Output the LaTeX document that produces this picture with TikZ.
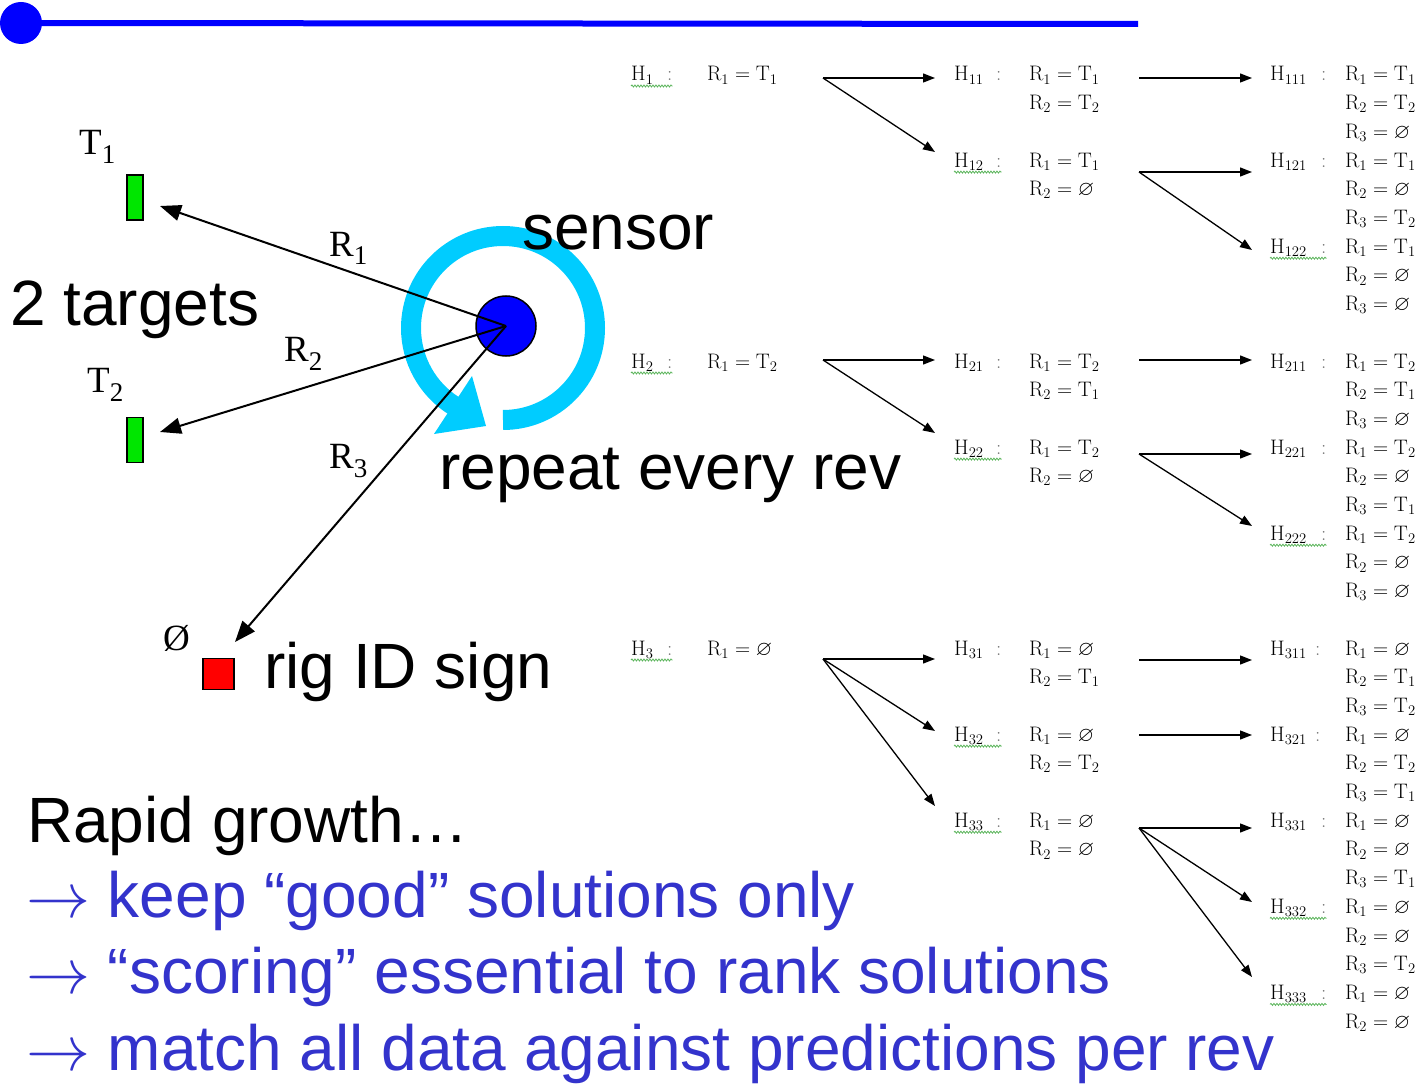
\RequirePackage{fix-cm}
\documentclass[tikz,border=0pt]{standalone}
\usepackage{amssymb}
\usepackage{fontspec}
\usetikzlibrary{arrows.meta,decorations.pathmorphing}
\newfontfamily\arialf{Liberation Sans}
\newfontfamily\timesf{Liberation Serif}
\definecolor{sblue}{RGB}{0,0,255}
\definecolor{tblue}{RGB}{51,51,204}
\definecolor{ringc}{RGB}{0,204,255}
\definecolor{tgreen}{RGB}{0,230,0}
\definecolor{wavyg}{RGB}{90,180,90}
\newcommand\tlab[2]{{\timesf\fontsize{37}{37}\selectfont #1\raisebox{-9pt}{\fontsize{27}{27}\selectfont #2}}}
\newcommand\HH[2]{\makebox[#1][l]{$\mathrm{H}_{#2}$}\textcolor{black!55}{:}}
\newcommand\Tt[1]{\mathrm{T}_{#1}}
\newcommand\emp{\varnothing}
\begin{document}
\begin{tikzpicture}[x=1pt,y=-1pt,
  bigtxt/.style={anchor=base west, inner sep=0, font=\arialf\fontsize{64}{70}\selectfont},
  tx/.style={anchor=base west, inner sep=0, font=\fontsize{21}{21}\selectfont},
  tarr/.style={-{Triangle[length=12pt,width=9pt]}, line width=1.3pt},
  larr/.style={-{Triangle[length=21pt,width=16pt]}, line width=2pt},
  tbox/.style={draw, line width=1.2pt, fill=tgreen, minimum width=16pt, minimum height=45pt, inner sep=0},
  wavy/.style={draw=wavyg, line width=0.8pt, decorate, decoration={snake, amplitude=1pt, segment length=3pt}}]
\useasboundingbox (0,0) rectangle (1427,1086);

% top rule
\node[circle, fill=sblue, inner sep=0, minimum size=42pt] (topdot) at (21,23) {};
\coordinate (topend) at (1138,24);
\draw[sblue, line width=6pt] (topdot.center) -- (topend);

% rotating arrow
\draw[ringc, line width=20pt] (503,420) arc[start angle=90, end angle=-238, radius=92];
\fill[ringc] (434,434) -- (472,376) -- (486,426) -- cycle;

% sensor and targets
\node[circle, draw, line width=1.5pt, fill=sblue, minimum size=60pt, inner sep=0] (sensor) at (506,326) {};
\node[tbox] (t1) at (135,197.5) {};
\node[tbox] (t2) at (135,440) {};
\node[draw, line width=1.2pt, fill=red, minimum size=31pt, inner sep=0] (sign) at (218.5,674) {};
\coordinate (t1tip) at (160,206);
\coordinate (t2tip) at (160,432);
\coordinate (signtip) at (235,642);
\draw[larr] (sensor.center) -- (t1tip);
\draw[larr] (sensor.center) -- (t2tip);
\draw[larr] (sensor.center) -- (signtip);

\node[anchor=base west, inner sep=0] (lt1) at (79,155) {\tlab{T}{1}};
\node[anchor=base west, inner sep=0] (lt2) at (87,392) {\tlab{T}{2}};
\node[anchor=base west, inner sep=0] (lr1) at (329,256) {\tlab{R}{1}};
\node[anchor=base west, inner sep=0] (lr2) at (284,361) {\tlab{R}{2}};
\node[anchor=base west, inner sep=0] (lr3) at (329,468) {\tlab{R}{3}};
\node[anchor=base west, inner sep=0, font=\timesf\fontsize{37}{37}\selectfont] (lemp) at (163,650) {Ø};

\node[bigtxt] (targets) at (10,325) {2 targets};
\node[bigtxt] (sensorlbl) at (522,250) {sensor};
\node[bigtxt] (repeat) at (439,489) {repeat every rev};
\node[bigtxt] (rig) at (264,688) {rig ID sign};

\node[bigtxt] (rapid) at (27,842) {Rapid growth…};
\node[bigtxt, text=tblue] (l1) at (26,917) {$\rightarrow$ keep “good” solutions only};
\node[bigtxt, text=tblue] (l2) at (26,993) {$\rightarrow$ “scoring” essential to rank solutions};
\node[bigtxt, text=tblue] (l3) at (26,1070) {$\rightarrow$ match all data against predictions per rev};

% hypothesis tree, column 1
\foreach \nm/\k/\ra in {1/0/\Tt1, 2/10/\Tt2, 3/20/\emp}{
  \node[tx] (h\nm) at (631,{81+28.7*\k}) {\HH{36pt}{\nm}};
  \node[tx] (h\nm r1) at (707,{81+28.7*\k}) {$\mathrm{R}_1=\ra$};
}
% column 2
\foreach \nm/\k/\ra/\rb in {11/0/\Tt1/\Tt2, 12/3/\Tt1/\emp, 21/10/\Tt2/\Tt1, 22/13/\Tt2/\emp, 31/20/\emp/\Tt1, 32/23/\emp/\Tt2, 33/26/\emp/\emp}{
  \node[tx] (h\nm) at (954,{81+28.7*\k}) {\HH{42pt}{\nm}};
  \node[tx] (h\nm r1) at (1029,{81+28.7*\k}) {$\mathrm{R}_1=\ra$};
  \node[tx] (h\nm r2) at (1029,{81+28.7*(\k+1)}) {$\mathrm{R}_2=\rb$};
}
% column 3
\foreach \nm/\k/\w/\ra/\rb/\rc in {111/0/51pt/\Tt1/\Tt2/\emp, 121/3/51pt/\Tt1/\emp/\Tt2, 122/6/51pt/\Tt1/\emp/\emp,
   211/10/51pt/\Tt2/\Tt1/\emp, 221/13/51pt/\Tt2/\emp/\Tt1, 222/16/51pt/\Tt2/\emp/\emp,
   311/20/45pt/\emp/\Tt1/\Tt2, 321/23/45pt/\emp/\Tt2/\Tt1, 331/26/51pt/\emp/\emp/\Tt1, 332/29/51pt/\emp/\emp/\Tt2}{
  \node[tx] (h\nm) at (1270,{81+28.7*\k}) {\HH{\w}{\nm}};
  \node[tx] (h\nm r1) at (1345,{81+28.7*\k}) {$\mathrm{R}_1=\ra$};
  \node[tx] (h\nm r2) at (1345,{81+28.7*(\k+1)}) {$\mathrm{R}_2=\rb$};
  \node[tx] (h\nm r3) at (1345,{81+28.7*(\k+2)}) {$\mathrm{R}_3=\rc$};
}
\node[tx] (h333) at (1270,{81+28.7*32}) {\HH{51pt}{333}};
\node[tx] (h333r1) at (1345,{81+28.7*32}) {$\mathrm{R}_1=\emp$};
\node[tx] (h333r2) at (1345,{81+28.7*33}) {$\mathrm{R}_2=\emp$};

% spell-check underlines
\foreach \n in {h1,h2,h3,h12,h22,h32,h33,h122,h222,h332,h333}
  \draw[wavy] ([yshift=-5pt]\n.base west) -- ([yshift=-5pt]\n.base east);

% tree arrows, column 1 -> 2
\coordinate (a1) at (823,78);  \coordinate (a11) at (935,78);  \coordinate (a12) at (935,152);
\coordinate (a2) at (823,360); \coordinate (a21) at (935,360); \coordinate (a22) at (935,433);
\coordinate (a3) at (823,659); \coordinate (a31) at (935,659); \coordinate (a32) at (935,731); \coordinate (a33) at (935,806);
\draw[tarr] (a1) -- (a11); \draw[tarr] (a1) -- (a12);
\draw[tarr] (a2) -- (a21); \draw[tarr] (a2) -- (a22);
\draw[tarr] (a3) -- (a31); \draw[tarr] (a3) -- (a32); \draw[tarr] (a3) -- (a33);
% column 2 -> 3
\coordinate (b11) at (1139,78);  \coordinate (b111) at (1252,78);
\coordinate (b12) at (1139,172); \coordinate (b121) at (1252,172); \coordinate (b122) at (1252,250);
\coordinate (b21) at (1139,360); \coordinate (b211) at (1252,360);
\coordinate (b22) at (1139,454); \coordinate (b221) at (1252,454); \coordinate (b222) at (1252,526);
\coordinate (b31) at (1139,660); \coordinate (b311) at (1252,660);
\coordinate (b32) at (1139,735); \coordinate (b321) at (1252,735);
\coordinate (b33) at (1139,828); \coordinate (b331) at (1252,828); \coordinate (b332) at (1252,902); \coordinate (b333) at (1252,977);
\draw[tarr] (b11) -- (b111);
\draw[tarr] (b12) -- (b121); \draw[tarr] (b12) -- (b122);
\draw[tarr] (b21) -- (b211);
\draw[tarr] (b22) -- (b221); \draw[tarr] (b22) -- (b222);
\draw[tarr] (b31) -- (b311);
\draw[tarr] (b32) -- (b321);
\draw[tarr] (b33) -- (b331); \draw[tarr] (b33) -- (b332); \draw[tarr] (b33) -- (b333);
\end{tikzpicture}
\end{document}
